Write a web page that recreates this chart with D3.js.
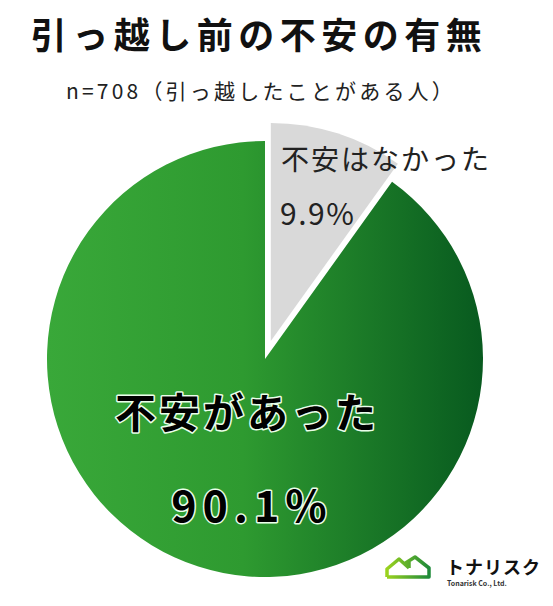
<!DOCTYPE html>
<html>
<head>
<meta charset="utf-8">
<script src="https://cdn.jsdelivr.net/npm/d3@7"></script>
<style>
  body { margin: 0; background: #fff; }
  svg { display: block; font-family: "Noto Sans CJK JP", "Noto Sans", sans-serif; }
</style>
</head>
<body>
<script>
// chart data
var title = "引っ越し前の不安の有無";
var subtitle = "n=708（引っ越したことがある人）";
var categories = ["不安があった", "不安はなかった"];
var values = [90.1, 9.9];
var valueLabels = ["90.1%", "9.9%"];

var svgWidth = 553;
var svgHeight = 606;

// pie geometry
var cx = 265, cy = 359, radius = 218;
var explode = 19;

var svg = d3.select("body")
    .append("svg")
    .attr("width", svgWidth)
    .attr("height", svgHeight);

var defs = svg.append("defs");

// horizontal green gradient for the big slice (coords are local to the pie group)
var grad = defs.append("linearGradient")
    .attr("id", "greenGrad")
    .attr("gradientUnits", "userSpaceOnUse")
    .attr("x1", -radius).attr("y1", 0)
    .attr("x2", radius).attr("y2", 0);
grad.append("stop").attr("offset", "0").attr("stop-color", "#39a839");
grad.append("stop").attr("offset", "0.45").attr("stop-color", "#2e9a30");
grad.append("stop").attr("offset", "1").attr("stop-color", "#085a1f");

var logoGrad = defs.append("linearGradient")
    .attr("id", "logoGrad")
    .attr("x1", "0").attr("y1", "0").attr("x2", "1").attr("y2", "0");
logoGrad.append("stop").attr("offset", "0").attr("stop-color", "#9ad21e");
logoGrad.append("stop").attr("offset", "1").attr("stop-color", "#1f8a3a");

// title + subtitle
svg.append("text")
    .attr("x", 259)
    .attr("y", 49)
    .attr("text-anchor", "middle")
    .attr("font-size", 36)
    .attr("font-weight", 700)
    .attr("letter-spacing", 5.5)
    .attr("fill", "#111")
    .text(title);

svg.append("text")
    .attr("x", 261)
    .attr("y", 99)
    .attr("text-anchor", "middle")
    .attr("font-size", 21)
    .attr("letter-spacing", 3.2)
    .attr("fill", "#222")
    .text(subtitle);

// pie: first slice (green) starts where the small one ends
var pie = d3.pie()
    .sort(null)
    .value(d => d)
    .startAngle(2 * Math.PI * values[1] / 100)
    .endAngle(2 * Math.PI * values[1] / 100 + 2 * Math.PI);

var arc = d3.arc().innerRadius(0).outerRadius(radius);
var arcs = pie(values);
var fills = ["url(#greenGrad)", "#d9d9d9"];

var pieGroup = svg.append("g")
    .attr("transform", `translate(${cx}, ${cy})`);

pieGroup.selectAll(".slice")
    .data(arcs)
    .enter()
    .append("path")
    .attr("class", "slice")
    .attr("transform", function (d, i) {
      if (i === 0) return null;
      var mid = (d.startAngle + d.endAngle) / 2;
      return `translate(${Math.sin(mid) * explode}, ${-Math.cos(mid) * explode})`;
    })
    .attr("d", arc)
    .attr("fill", (d, i) => fills[i]);

// big slice labels (black with light halo)
var bigLabels = svg.append("g")
    .attr("text-anchor", "middle")
    .attr("font-weight", 700)
    .attr("fill", "#000")
    .attr("stroke", "#eaffea")
    .attr("stroke-width", 3)
    .attr("paint-order", "stroke")
    .attr("stroke-linejoin", "round");

bigLabels.append("text")
    .attr("x", 247)
    .attr("y", 428)
    .attr("font-size", 41)
    .attr("letter-spacing", 3)
    .text(categories[0]);

bigLabels.append("text")
    .attr("x", 252)
    .attr("y", 522)
    .attr("font-size", 43)
    .attr("letter-spacing", 6)
    .text(valueLabels[0]);

// small slice labels
svg.append("text")
    .attr("x", 281)
    .attr("y", 170)
    .attr("font-size", 28)
    .attr("letter-spacing", 2)
    .attr("fill", "#222")
    .text(categories[1]);

svg.append("text")
    .attr("x", 280)
    .attr("y", 225)
    .attr("font-size", 30)
    .attr("letter-spacing", 1.5)
    .attr("fill", "#222")
    .text(valueLabels[1]);

// company logo, bottom right
var logo = svg.append("g").attr("transform", "translate(385, 557)");
logo.append("path")
    .attr("d", "M2,20 L2,12 L14,2 L24,11 M19,7 L30,0 L44,11 L44,20 L2,20 M24,11 L24,4")
    .attr("fill", "none")
    .attr("stroke", "url(#logoGrad)")
    .attr("stroke-width", 3.5)
    .attr("stroke-linejoin", "round");
logo.append("text")
    .attr("x", 61)
    .attr("y", 17)
    .attr("font-size", 18)
    .attr("font-weight", 700)
    .attr("letter-spacing", 1)
    .attr("fill", "#111")
    .text("トナリスク");
logo.append("text")
    .attr("x", 62)
    .attr("y", 29)
    .attr("font-size", 7)
    .attr("font-weight", 700)
    .attr("fill", "#333")
    .text("Tonarisk Co., Ltd.");
</script>
</body>
</html>
